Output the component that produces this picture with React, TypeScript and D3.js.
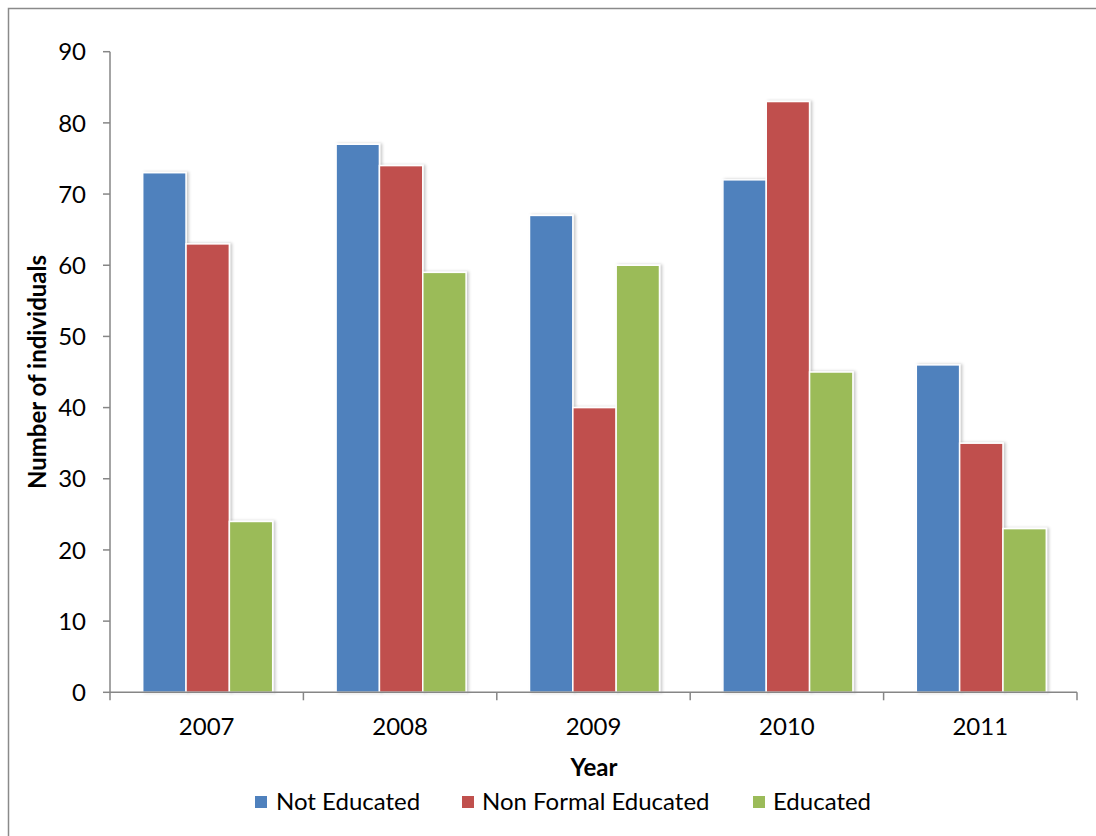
import React from "react";
import * as d3 from "d3";

const years = ["2007", "2008", "2009", "2010", "2011"];
const seriesNames = ["Not Educated", "Non Formal Educated", "Educated"];
const notEducated = [73, 77, 67, 72, 46];
const nonFormalEducated = [63, 74, 40, 83, 35];
const educated = [24, 59, 60, 45, 23];
const yTicks = [0, 10, 20, 30, 40, 50, 60, 70, 80, 90];
const colors = ["#4F81BD", "#C0504D", "#9BBB59"];

const W = 1096;
const H = 836;
const FONT = "Lato, 'Open Sans', sans-serif";

export default function App() {
  const seriesValues = [notEducated, nonFormalEducated, educated];
  const left = 110, right = 1077, top = 51.7, bottom = 692.3;
  const y = d3.scaleLinear().domain([0, 90]).range([bottom, top]);
  const x0 = d3.scaleBand<string>().domain(years).range([left, right]).padding(0);
  const bw = x0.bandwidth();
  const groupW = 130;
  const x1 = d3
    .scaleBand<string>()
    .domain(seriesNames)
    .range([(bw - groupW) / 2 + 1, (bw + groupW) / 2 + 1])
    .padding(0);

  const legendItems = [
    { name: seriesNames[0], sx: 255, tx: 276 },
    { name: seriesNames[1], sx: 462, tx: 482 },
    { name: seriesNames[2], sx: 753, tx: 773 },
  ];

  return (
    <svg
      width={W}
      height={H}
      style={{ position: "fixed", left: 0, top: 0, background: "#fff" }}
      fontFamily={FONT}
    >
      <defs>
        <filter id="sh" x="-20%" y="-5%" width="150%" height="110%">
          <feDropShadow dx="2" dy="0" stdDeviation="1.6" floodColor="#000" floodOpacity="0.22" />
        </filter>
      </defs>
      <rect x={0} y={0} width={W} height={H} fill="#fff" />
      <rect x={8.5} y={8.5} width={W + 20} height={H + 20} fill="none" stroke="#8a8a8a" strokeWidth={1.5} />

      {/* bars */}
      {years.map((yr, i) => (
        <g key={yr} transform={`translate(${x0(yr)},0)`}>
          {seriesNames.map((s, j) => {
            const v = seriesValues[j][i];
            return (
              <rect
                key={s}
                x={x1(s)!}
                y={y(v)}
                width={x1.bandwidth()}
                height={bottom - y(v)}
                fill={colors[j]}
                stroke="#fff"
                strokeWidth={1.5}
                filter="url(#sh)"
              />
            );
          })}
        </g>
      ))}

      {/* y axis */}
      <line x1={left} x2={left} y1={top} y2={bottom} stroke="#868686" strokeWidth={1.5} />
      {yTicks.map((t) => (
        <g key={t}>
          <line x1={left - 7} x2={left} y1={y(t)} y2={y(t)} stroke="#868686" strokeWidth={1.5} />
          <text x={86} y={y(t)} dy="0.36em" textAnchor="end" fontSize={24} fill="#000">
            {t}
          </text>
        </g>
      ))}

      {/* x axis */}
      <line x1={left} x2={right} y1={bottom} y2={bottom} stroke="#868686" strokeWidth={1.5} />
      {[...years.map((yr) => x0(yr)!), right].map((px, k) => (
        <line key={k} x1={px} x2={px} y1={bottom} y2={bottom + 8} stroke="#868686" strokeWidth={1.5} />
      ))}
      {years.map((yr) => (
        <text key={yr} x={x0(yr)! + bw / 2} y={735} textAnchor="middle" fontSize={24} fill="#000">
          {yr}
        </text>
      ))}

      {/* titles */}
      <text x={594} y={776} textAnchor="middle" fontSize={24} fontWeight="bold" fill="#000">
        Year
      </text>
      <text
        transform={`translate(46,${(top + bottom) / 2}) rotate(-90)`}
        textAnchor="middle"
        fontSize={24}
        fontWeight="bold"
        fill="#000"
      >
        Number of individuals
      </text>

      {/* legend */}
      {legendItems.map((it, j) => (
        <g key={it.name}>
          <rect x={it.sx} y={796} width={12} height={12} fill={colors[j]} />
          <text x={it.tx} y={810} fontSize={24} fill="#000">
            {it.name}
          </text>
        </g>
      ))}
    </svg>
  );
}
